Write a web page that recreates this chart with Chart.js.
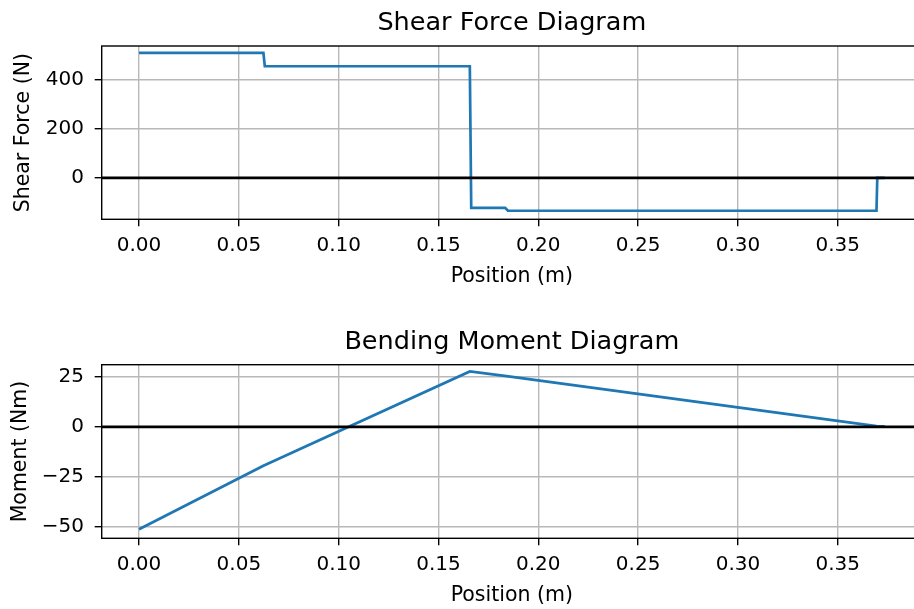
<!DOCTYPE html>
<html>
<head>
<meta charset="utf-8">
<title>Shear Force and Bending Moment</title>
<script src="https://cdn.jsdelivr.net/npm/chart.js@4.4.1/dist/chart.umd.min.js"></script>
<style>
  html, body { margin: 0; padding: 0; background: #fff; }
  body { width: 914px; height: 609px; overflow: hidden; position: relative; }
  canvas { position: absolute; left: 0; }
  #shear { top: 0; }
  #moment { top: 300px; }
</style>
</head>
<body>
<canvas id="shear" width="930" height="300"></canvas>
<canvas id="moment" width="930" height="309"></canvas>
<script>
// Beam results: shear force + bending moment along the beam (m).

const positionTicks = [0, 0.05, 0.10, 0.15, 0.20, 0.25, 0.30, 0.35];
const shearTicks = [0, 200, 400];
const momentTicks = [-50, -25, 0, 25];

const shearX = [0, 0.0623, 0.0630, 0.1657, 0.1664, 0.1834, 0.1848, 0.3694, 0.3698, 0.3735];
const shearY = [512, 512, 457, 457, -123, -123, -135, -135, 0, 0];

const momentX = [0, 0.0623, 0.1657, 0.1841, 0.3694, 0.3735];
const momentY = [-51.2, -19.4, 27.7, 25.4, 0.4, 0.3];

const xRange = [-0.0187, 0.3922];
const shearRange = [-170, 540];
const momentRange = [-55.7, 31.1];

const FAMILY = "'DejaVu Sans', sans-serif";
const tickFont = { family: FAMILY, size: 20 };
const labelFont = { family: FAMILY, size: 20.5, lineHeight: 1.2 };
const minus = (v) => (v < 0 ? "\u2212" + Math.abs(v) : String(v));

// matplotlib-style box around the axes
const frame = {
  id: "frame",
  afterDraw(chart) {
    const { ctx, chartArea: a } = chart;
    ctx.save();
    ctx.strokeStyle = "#000";
    ctx.lineWidth = 1.4;
    ctx.strokeRect(a.left, a.top, a.right - a.left, a.bottom - a.top);
    ctx.restore();
  },
};

const gridOpts = {
  color: "#b8b8b8",
  lineWidth: 1.4,
  drawTicks: true,
  tickLength: 7,
  tickColor: "#000",
  tickWidth: 1.4,
};

function makeChart(id, cfg) {
  const points = cfg.x.map((x, i) => ({ x, y: cfg.y[i] }));
  return new Chart(document.getElementById(id), {
    type: "line",
    data: {
      datasets: [
        {
          data: [{ x: xRange[0], y: 0 }, { x: xRange[1], y: 0 }],
          borderColor: "#000",
          borderWidth: 2.7,
          pointRadius: 0,
        },
        {
          data: points,
          borderColor: "#1f77b4",
          borderWidth: 2.7,
          pointRadius: 0,
          tension: 0,
        },
      ],
    },
    options: {
      responsive: false,
      animation: false,
      devicePixelRatio: 1,
      layout: { padding: { left: 0, right: 8, top: 0, bottom: 0 } },
      plugins: {
        legend: { display: false },
        tooltip: { enabled: false },
        title: {
          display: true,
          text: cfg.title,
          fullSize: false,
          color: "#000",
          font: { family: FAMILY, size: 25.5, weight: "normal", lineHeight: 1.2 },
          padding: { top: cfg.titleTop, bottom: 6.9 },
        },
      },
      scales: {
        x: {
          type: "linear",
          min: xRange[0],
          max: xRange[1],
          afterBuildTicks: (s) => { s.ticks = positionTicks.map(v => ({ value: v })); },
          afterFit: (s) => { s.height = cfg.xAxisHeight; },
          grid: gridOpts,
          border: { display: false },
          ticks: {
            callback: (v) => v.toFixed(2),
            padding: 7.7,
            font: tickFont,
            color: "#000",
            autoSkip: false,
            maxRotation: 0,
            includeBounds: false,
          },
          title: {
            display: true,
            text: "Position (m)",
            font: labelFont,
            color: "#000",
            padding: { top: 0, bottom: cfg.xTitlePad },
          },
        },
        y: {
          type: "linear",
          min: cfg.range[0],
          max: cfg.range[1],
          afterBuildTicks: (s) => { s.ticks = cfg.ticks.map(v => ({ value: v })); },
          afterFit: (s) => { s.width = 101.7; },
          grid: gridOpts,
          border: { display: false },
          ticks: {
            callback: minus,
            padding: 10.7,
            font: tickFont,
            color: "#000",
            autoSkip: false,
            includeBounds: false,
          },
          title: {
            display: true,
            text: cfg.yLabel,
            font: labelFont,
            color: "#000",
            padding: { top: cfg.yTitlePad, bottom: 0 },
          },
        },
      },
    },
    plugins: [frame],
  });
}

makeChart("shear", {
  title: "Shear Force Diagram",
  yLabel: "Shear Force (N)",
  x: shearX,
  y: shearY,
  ticks: shearTicks,
  range: shearRange,
  titleTop: 8.5,
  xAxisHeight: 80.7,
  xTitlePad: 11.5,
  yTitlePad: 11.5,
});

makeChart("moment", {
  title: "Bending Moment Diagram",
  yLabel: "Moment (Nm)",
  x: momentX,
  y: momentY,
  ticks: momentTicks,
  range: momentRange,
  titleTop: 27.2,
  xAxisHeight: 70.7,
  xTitlePad: 1.5,
  yTitlePad: 8.5,
});
</script>
</body>
</html>
